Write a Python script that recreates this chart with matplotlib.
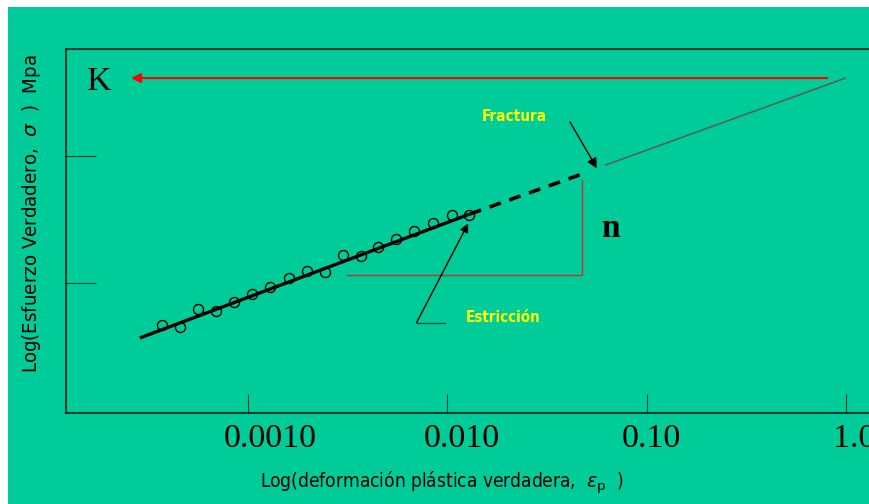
import matplotlib
matplotlib.use("Agg")
import matplotlib.pyplot as plt
from matplotlib.patches import Rectangle
from matplotlib.transforms import ScaledTranslation

# ---- data ----
strain_pts = [3.71e-4, 4.58e-4, 5.61e-4, 6.94e-4, 8.57e-4, 1.047e-3, 1.294e-3, 1.611e-3,
              1.976e-3, 2.44e-3, 2.99e-3, 3.68e-3, 4.52e-3, 5.54e-3, 6.84e-3, 8.46e-3,
              1.054e-2, 1.291e-2]
stress_pts = [46.8, 45.4, 62.1, 60.6, 70.5, 81.5, 93.5, 108.9, 124.9, 121.4, 166.9, 163.0,
              192.8, 221.6, 257.6, 297.7, 342.1, 340.2]

fit_strain = [2.88e-4, 1.30e-2]
fit_stress = [37.0, 348.0]
necking_strain = [1.30e-2, 0.0491]
necking_stress = [348.0, 731.0]
extrap_strain = [0.0625, 0.989]
extrap_stress = [845.0, 4055.0]
fracture_point = (0.0564, 795.0)
K_value = 4070.0

tri_strain = [3.13e-3, 0.0475, 0.0475]
tri_stress = [115.6, 115.6, 644.0]

xtick_vals = [0.001, 0.01, 0.1, 1.0]
xtick_labels = ["0.0010", "0.010", "0.10", "1.0"]
xtick_label_shift_px = [23, 15, 5, 8]
ytick_vals = [100, 1000]

BG = "#00CC99"
DARK = "#0b3d2c"

W, H = 870, 504
fig = plt.figure(figsize=(W / 100, H / 100), dpi=100, facecolor="white")
bg = Rectangle((8 / W, 0), 1, (H - 7) / H, transform=fig.transFigure,
               facecolor=BG, edgecolor="none", zorder=-10)
fig.patches.append(bg)

ax = fig.add_axes([66 / W, (H - 412.7) / H, (W - 66) / W, (412.7 - 49) / H])
ax.set_zorder(5)
ax.set_facecolor("none")
ax.set_xscale("log")
ax.set_yscale("log")
ax.set_xlim(1.227e-4, 1.32)
ax.set_ylim(9.57, 6887)

for s in ["left", "bottom", "top"]:
    ax.spines[s].set_color(DARK)
    ax.spines[s].set_linewidth(1.5)
ax.spines["right"].set_visible(False)

ax.set_xticks(xtick_vals)
ax.set_xticklabels(xtick_labels, fontfamily="Liberation Serif", fontsize=24.5)
ax.xaxis.set_minor_locator(matplotlib.ticker.NullLocator())
ax.set_yticks(ytick_vals)
ax.set_yticklabels([])
ax.yaxis.set_minor_locator(matplotlib.ticker.NullLocator())
ax.tick_params(axis="x", direction="in", length=14, width=0.8, color=DARK, pad=8)
ax.tick_params(axis="y", direction="in", length=21.6, width=0.8, color=DARK)
for lab, dx in zip(ax.get_xticklabels(), xtick_label_shift_px):
    lab.set_transform(lab.get_transform() + ScaledTranslation(dx / 100, 0, fig.dpi_scale_trans))

# data
ax.plot(strain_pts, stress_pts, linestyle="none", marker="o", markersize=7.2,
        markerfacecolor="none", markeredgecolor="black", markeredgewidth=1.0, zorder=3)
ax.plot(fit_strain, fit_stress, color="black", lw=2.4, solid_capstyle="butt", zorder=4)
ax.plot(necking_strain, necking_stress, color="black", lw=2.6, dashes=(3.3, 2.5), zorder=4)
ax.plot(extrap_strain, extrap_stress, color="#5a5a5a", lw=1.1, zorder=4)

# red triangle (slope n)
ax.plot(tri_strain, tri_stress, color="#c8302a", lw=1.0, zorder=2)

# K arrow
ax.annotate("", xy=(2.60e-4, K_value), xytext=(0.807, K_value),
            arrowprops=dict(arrowstyle="-|>", color="red", lw=1.5, mutation_scale=14,
                            shrinkA=0, shrinkB=0))
ax.text(1.80e-4, 3795, "K", fontfamily="Liberation Serif", fontsize=24.5,
        ha="center", va="center", color="black")

ax.text(0.0662, 270, "n", fontfamily="Liberation Serif", fontsize=24, fontweight="bold",
        ha="center", va="center", color="black")

# Fractura
ax.text(0.0216, 2014, "Fractura", fontfamily="DejaVu Sans", fontstretch="condensed",
        fontsize=11, fontweight="bold", color="#FFFF00", ha="center", va="center")
ax.annotate("", xy=fracture_point, xytext=(0.0413, 1842),
            arrowprops=dict(arrowstyle="-|>", color="black", lw=1.0, mutation_scale=15,
                            shrinkA=0, shrinkB=0))

# Estriccion
ax.text(0.01914, 53.1, "Estricción", fontfamily="DejaVu Sans", fontstretch="condensed",
        fontsize=10.8, fontweight="bold", color="#FFFF00", ha="center", va="center")
ax.plot([9.75e-3, 7.03e-3], [48.8, 48.8], color="#0b4a32", lw=1.0)
ax.annotate("", xy=(0.01276, 294), xytext=(7.03e-3, 48.8),
            arrowprops=dict(arrowstyle="-|>", color="black", lw=1.0, mutation_scale=13,
                            shrinkA=0, shrinkB=0))

# axis titles
fig.text(442 / W, 1 - 483 / H,
         r"Log(deformación plástica verdadera,  $\varepsilon_{\mathrm{p}}$  )",
         fontfamily="DejaVu Sans", fontstretch="condensed", fontsize=13.7,
         ha="center", va="center", color="black")
fig.text(32 / W, 1 - 214 / H, r"Log(Esfuerzo Verdadero,  $\sigma$  )  Mpa",
         fontfamily="DejaVu Sans", fontstretch="condensed", fontsize=14.6,
         rotation=90, ha="center", va="center", color="black")

fig.savefig("out.png", dpi=100, facecolor="white")
